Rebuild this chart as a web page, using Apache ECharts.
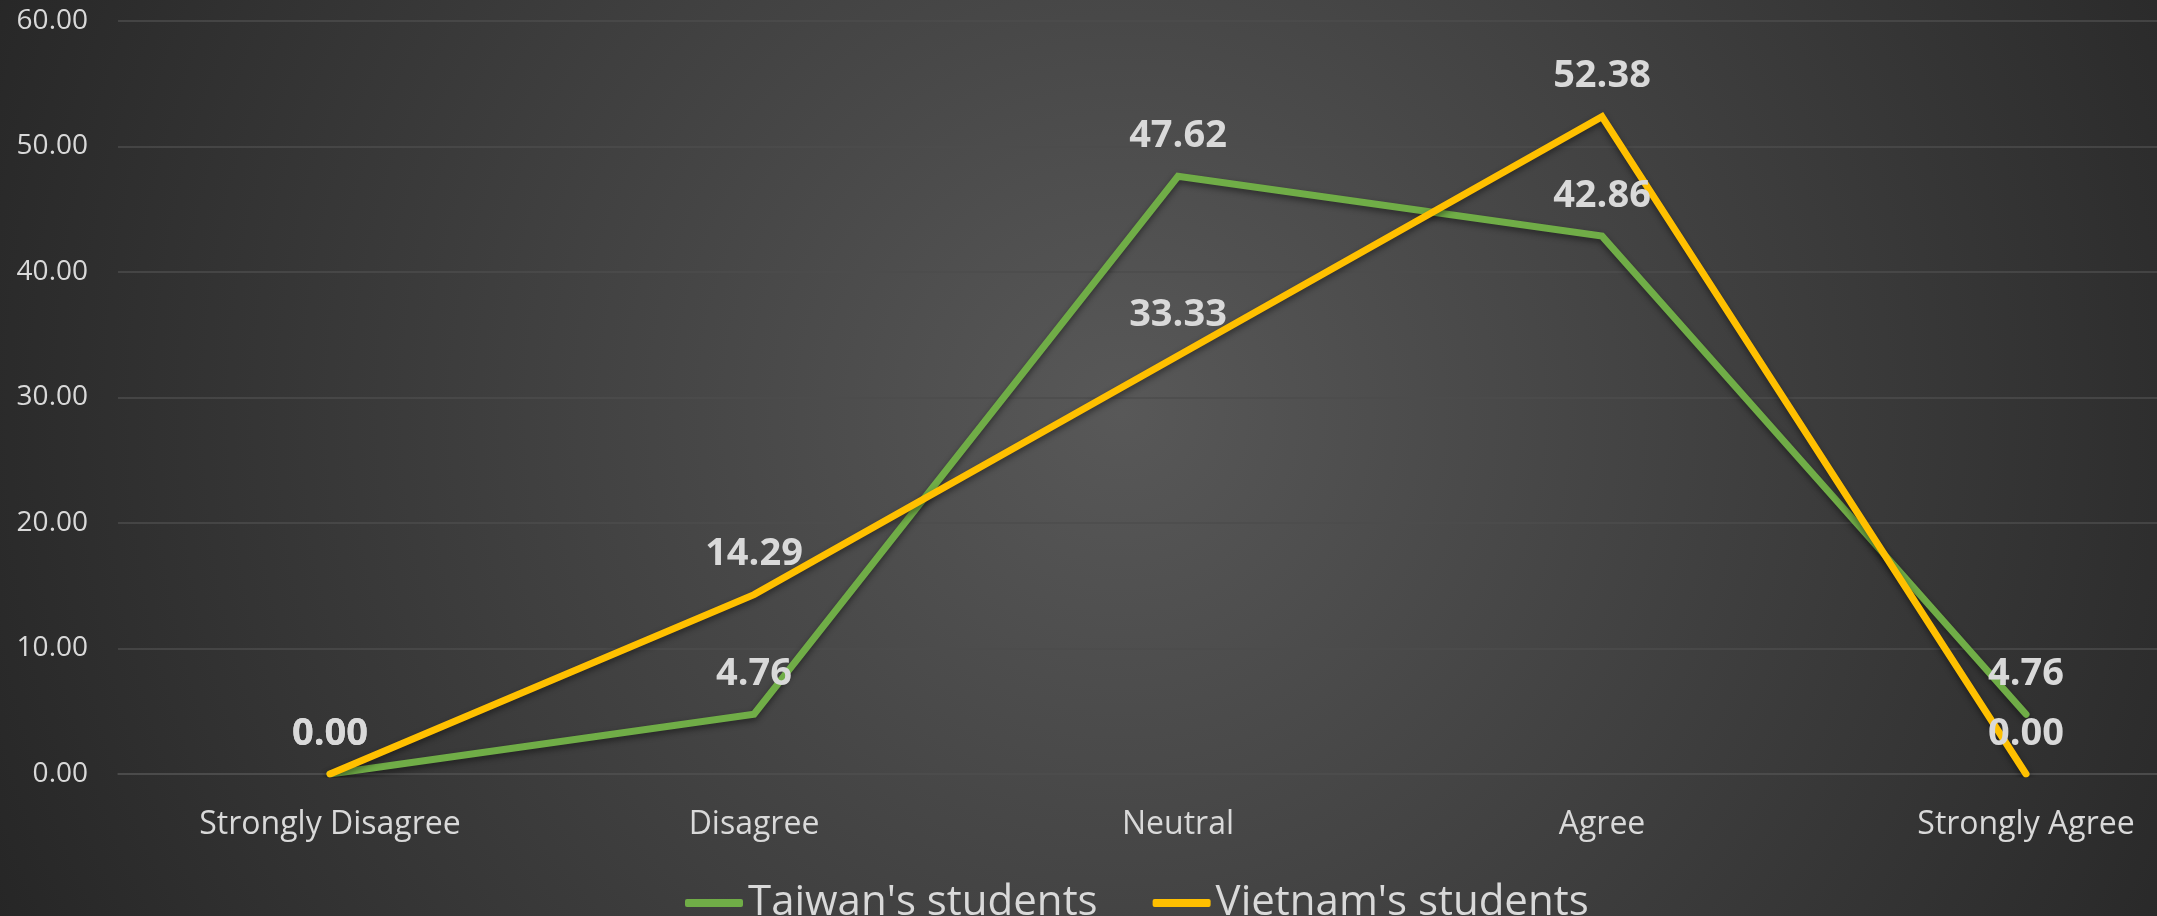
<!DOCTYPE html>
<html>
<head>
<meta charset="utf-8">
<script src="https://cdn.jsdelivr.net/npm/echarts@6/dist/echarts.min.js"></script>
<style>
    html, body { margin: 0; padding: 0; background: #2b2b2b; }
    #chart { width: 2157px; height: 916px; }
</style>
</head>
<body>
<div id="chart"></div>
<script>
(function () {
    // categories on the x axis
    let categories = ['Strongly Disagree', 'Disagree', 'Neutral', 'Agree', 'Strongly Agree'];
    // percentages per group
    let taiwan = [0.00, 4.76, 47.62, 42.86, 4.76];
    let vietnam = [0.00, 14.29, 33.33, 52.38, 0.00];
    let seriesNames = ["Taiwan's students", "Vietnam's students"];

    let chart = echarts.init(document.getElementById('chart'));

    let textColor = '#d9d9d9';
    let font = '"Open Sans", "Noto Sans", sans-serif';

    function lineSeries(name, data, color) {
        return {
            name: name,
            type: 'line',
            data: data,
            // tiny symbol so the labels still show
            symbol: 'circle',
            symbolSize: 0.1,
            showSymbol: true,
            animation: false,
            lineStyle: {
                color: color,
                width: 7,
                cap: 'round',
                join: 'miter',
                shadowColor: 'rgba(0,0,0,0.45)',
                shadowBlur: 6,
                shadowOffsetY: 3
            },
            itemStyle: {
                color: color
            },
            label: {
                show: true,
                position: 'top',
                distance: 21,
                color: textColor,
                fontFamily: font,
                fontWeight: 'bold',
                fontSize: 38,
                formatter: function (p) {
                    return p.value.toFixed(2);
                }
            },
            labelLayout: {
                hideOverlap: false
            }
        };
    }

    let option = {
        backgroundColor: {
            type: 'radial',
            x: 0.52,
            y: 0.45,
            r: 1.35,
            colorStops: [
                { offset: 0, color: '#585858' },
                { offset: 1, color: '#262626' }
            ]
        },
        textStyle: {
            fontFamily: font
        },
        grid: {
            left: 118,
            right: -81,
            top: 21,
            bottom: 142,
            outerBoundsMode: 'none'
        },
        legend: {
            left: 680,
            top: 877,
            icon: 'roundRect',
            itemWidth: 58,
            itemHeight: 8,
            itemGap: 55,
            data: seriesNames,
            textStyle: {
                color: textColor,
                fontSize: 42,
                fontFamily: font
            }
        },
        xAxis: {
            type: 'category',
            data: categories,
            boundaryGap: true,
            axisLine: {
                show: true,
                lineStyle: { color: '#4d4d4d', width: 1.5 }
            },
            axisTick: { show: false },
            axisLabel: {
                color: textColor,
                fontSize: 32,
                fontFamily: font,
                margin: 35,
                interval: 0
            }
        },
        yAxis: {
            type: 'value',
            min: 0,
            max: 60,
            interval: 10,
            axisLine: { show: false },
            axisTick: { show: false },
            splitLine: {
                lineStyle: { color: '#4d4d4d', width: 1.5 }
            },
            axisLabel: {
                color: textColor,
                fontSize: 28,
                fontFamily: font,
                margin: 30,
                formatter: function (v) {
                    return v.toFixed(2);
                }
            }
        },
        series: [
            lineSeries(seriesNames[0], taiwan, '#70ad47'),
            lineSeries(seriesNames[1], vietnam, '#ffc000')
        ]
    };

    chart.setOption(option);
})();
</script>
</body>
</html>
